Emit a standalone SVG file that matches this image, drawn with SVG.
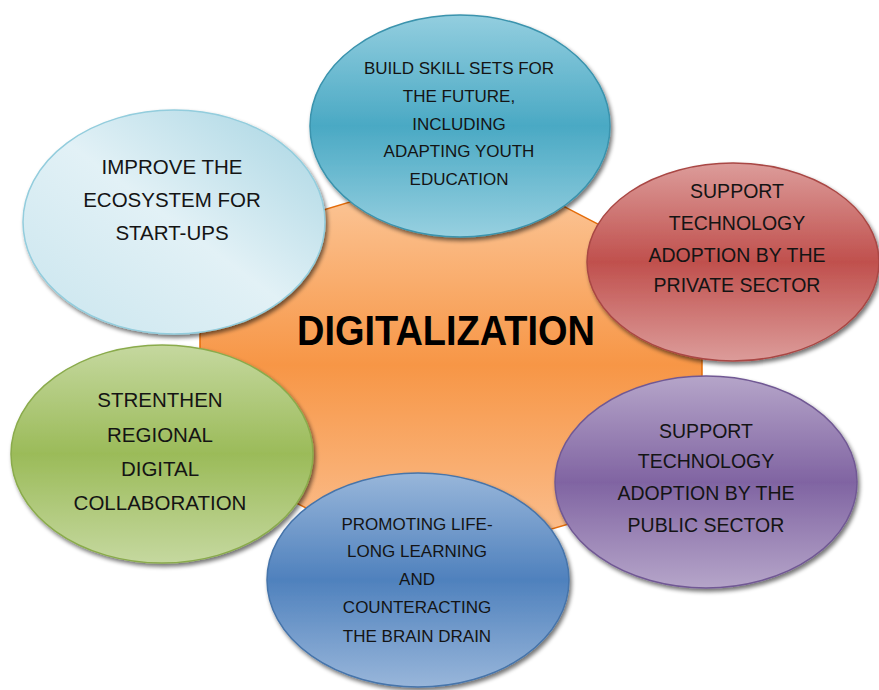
<svg xmlns="http://www.w3.org/2000/svg" width="879" height="690" viewBox="0 0 879 690">
<style>
  .t { font-family: "Liberation Sans", Arial, sans-serif; fill: #141414; text-anchor: middle; }
  .s17 { font-size: 17px; }
  .s195 { font-size: 19.5px; }
  .s20 { font-size: 20.5px; }
  .title { font-family: "Liberation Sans", Arial, sans-serif; font-weight: bold; font-size: 43px; fill: #000; text-anchor: middle; }
  .ell { filter: url(#shadow); stroke-width: 1.5; }
</style>
<defs>
  <filter id="shadow" x="-10%" y="-10%" width="125%" height="130%">
    <feGaussianBlur in="SourceAlpha" stdDeviation="2"/>
    <feOffset dx="2" dy="3" result="b"/>
    <feComponentTransfer><feFuncA type="linear" slope="0.55"/></feComponentTransfer>
    <feMerge><feMergeNode/><feMergeNode in="SourceGraphic"/></feMerge>
  </filter>
  <linearGradient id="gOrange" x1="0" y1="0" x2="0" y2="1">
    <stop offset="0" stop-color="#fccda4"/>
    <stop offset="0.5" stop-color="#f79646"/>
    <stop offset="1" stop-color="#fbc59a"/>
  </linearGradient>
  <linearGradient id="gTeal" x1="0" y1="0" x2="0" y2="1">
    <stop offset="0" stop-color="#93cedf"/>
    <stop offset="0.5" stop-color="#4aa9c4"/>
    <stop offset="1" stop-color="#97d0e0"/>
  </linearGradient>
  <linearGradient id="gLight" x1="1" y1="0" x2="0" y2="1">
    <stop offset="0" stop-color="#a6d4e2"/>
    <stop offset="0.5" stop-color="#e2f1f6"/>
    <stop offset="1" stop-color="#c9e5ee"/>
  </linearGradient>
  <linearGradient id="gRed" x1="0" y1="0" x2="0" y2="1">
    <stop offset="0" stop-color="#dc9c9a"/>
    <stop offset="0.5" stop-color="#c0504d"/>
    <stop offset="1" stop-color="#dc9c9a"/>
  </linearGradient>
  <linearGradient id="gPurple" x1="0" y1="0" x2="0" y2="1">
    <stop offset="0" stop-color="#b5a5c9"/>
    <stop offset="0.5" stop-color="#8064a2"/>
    <stop offset="1" stop-color="#b5a5c9"/>
  </linearGradient>
  <linearGradient id="gBlue" x1="0" y1="0" x2="0" y2="1">
    <stop offset="0" stop-color="#98b6da"/>
    <stop offset="0.5" stop-color="#4f81bd"/>
    <stop offset="1" stop-color="#98b6da"/>
  </linearGradient>
  <linearGradient id="gGreen" x1="0" y1="0" x2="0" y2="1">
    <stop offset="0" stop-color="#c5d89f"/>
    <stop offset="0.5" stop-color="#9bbb59"/>
    <stop offset="1" stop-color="#c5d89f"/>
  </linearGradient>
</defs>
<rect width="879" height="690" fill="#ffffff"/>

<g id="center">
  <polygon points="480,163 702,278 702,485 422,567 200,454 200,247" fill="url(#gOrange)" stroke="#e46c0a" stroke-width="1.5"/>
  <text class="title" x="446" y="345" textLength="298" lengthAdjust="spacingAndGlyphs">DIGITALIZATION</text>
</g>

<g id="connectors"></g>

<g id="node-skills">
  <ellipse class="ell" cx="460" cy="126" rx="150" ry="111" fill="url(#gTeal)" stroke="#3a93ad"/>
  <text class="t s17" x="459" y="74">BUILD SKILL SETS FOR</text>
  <text class="t s17" x="459" y="102">THE FUTURE,</text>
  <text class="t s17" x="459" y="130">INCLUDING</text>
  <text class="t s17" x="459" y="157">ADAPTING YOUTH</text>
  <text class="t s17" x="459" y="185">EDUCATION</text>
</g>

<g id="node-startups">
  <ellipse class="ell" cx="174" cy="222" rx="151" ry="112" fill="url(#gLight)" stroke="#93cddd"/>
  <text class="t s20" x="172" y="174">IMPROVE THE</text>
  <text class="t s20" x="172" y="207">ECOSYSTEM FOR</text>
  <text class="t s20" x="172" y="240">START-UPS</text>
</g>

<g id="node-private">
  <ellipse class="ell" cx="733" cy="262" rx="146" ry="99" fill="url(#gRed)" stroke="#a94744"/>
  <text class="t s195" x="737" y="198">SUPPORT</text>
  <text class="t s195" x="737" y="230">TECHNOLOGY</text>
  <text class="t s195" x="737" y="262">ADOPTION BY THE</text>
  <text class="t s195" x="737" y="292">PRIVATE SECTOR</text>
</g>

<g id="node-regional">
  <ellipse class="ell" cx="162" cy="454" rx="151" ry="109" fill="url(#gGreen)" stroke="#8aab4c"/>
  <text class="t s20" x="160" y="407">STRENTHEN</text>
  <text class="t s20" x="160" y="442">REGIONAL</text>
  <text class="t s20" x="160" y="476">DIGITAL</text>
  <text class="t s20" x="160" y="510">COLLABORATION</text>
</g>

<g id="node-public">
  <ellipse class="ell" cx="706" cy="482" rx="151" ry="106" fill="url(#gPurple)" stroke="#715994"/>
  <text class="t s195" x="706" y="438">SUPPORT</text>
  <text class="t s195" x="706" y="468">TECHNOLOGY</text>
  <text class="t s195" x="706" y="500">ADOPTION BY THE</text>
  <text class="t s195" x="706" y="532">PUBLIC SECTOR</text>
</g>

<g id="node-lifelong">
  <ellipse class="ell" cx="418" cy="580" rx="151" ry="107" fill="url(#gBlue)" stroke="#4674aa"/>
  <text class="t s17" x="417" y="530">PROMOTING LIFE-</text>
  <text class="t s17" x="417" y="557">LONG LEARNING</text>
  <text class="t s17" x="417" y="585">AND</text>
  <text class="t s17" x="417" y="613">COUNTERACTING</text>
  <text class="t s17" x="417" y="642">THE BRAIN DRAIN</text>
</g>
</svg>
